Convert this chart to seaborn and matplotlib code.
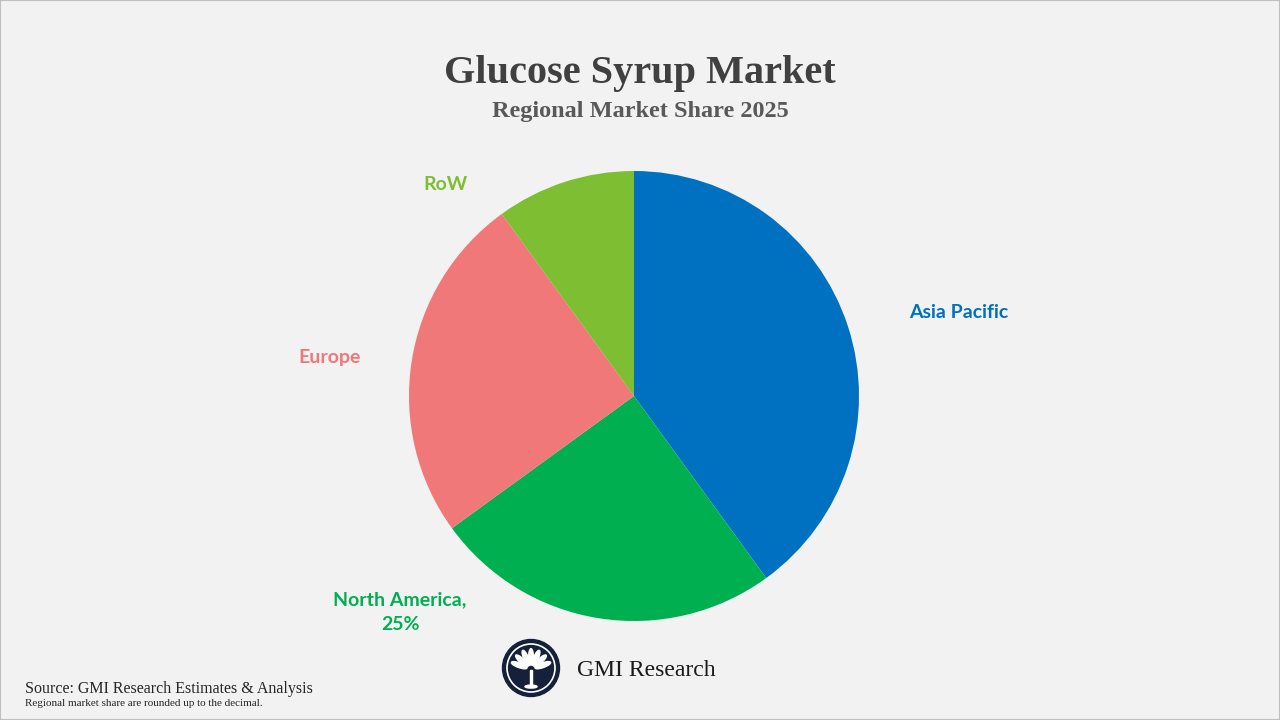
import matplotlib
matplotlib.use("Agg")
import matplotlib.pyplot as plt
import matplotlib.patches as mpatches
import numpy as np
import seaborn as sns

# ---- data ----
regions = ["Asia Pacific", "North America", "Europe", "RoW"]
shares = [40, 25, 25, 10]
label_texts = ["Asia Pacific", "North America,\n25%", "Europe", "RoW"]
colors = ["#0070C0", "#00B050", "#F07878", "#7DBE32"]
title = "Glucose Syrup Market"
subtitle = "Regional Market Share 2025"
source_line = "Source: GMI Research Estimates & Analysis"
note_line = "Regional market share are rounded up to the decimal."

sns.set_theme(style="white")
plt.rcParams["font.family"] = ["Lato", "DejaVu Sans"]

W, H = 1280, 720
fig = plt.figure(figsize=(12.8, 7.2), dpi=100)
fig.patch.set_facecolor("#F2F2F2")

# pie axes: centre (634,396), radius 225 px
cx, cy, r = 634, 396, 225
ax = fig.add_axes([(cx - r) / W, (H - cy - r) / H, 2 * r / W, 2 * r / H])
ax.set_facecolor("none")
ax.pie(shares, colors=colors, startangle=90, counterclock=False, radius=1.0,
       wedgeprops=dict(linewidth=0))
ax.set_xlim(-1, 1)
ax.set_ylim(-1, 1)
ax.set_aspect("equal")
ax.axis("off")

# label positions (relative to pie centre, in radius units)
label_pos = [(1.444, 0.373), (-1.04, -0.96), (-1.351, 0.17), (-0.836, 0.938)]
for txt, (lx, ly), c in zip(label_texts, label_pos, colors):
    ax.text(lx, ly, txt, color=c, fontsize=14, fontweight="bold",
            ha="center", va="center", linespacing=1.55, clip_on=False)

# titles
fig.text(0.5, 1 - 73 / H, title, ha="center", va="center",
         fontsize=29, fontweight="bold", color="#404040", family="Liberation Serif")
fig.text(0.5, 1 - 111 / H, subtitle, ha="center", va="center",
         fontsize=17.5, fontweight="bold", color="#595959", family="Liberation Serif")

# source
fig.text(25 / W, 1 - 689 / H, source_line, ha="left", va="center",
         fontsize=11.5, color="#262626", family="Liberation Serif")
fig.text(25 / W, 1 - 704 / H, note_line, ha="left", va="center",
         fontsize=8, color="#262626", family="Liberation Serif")

# logo
lax = fig.add_axes([(531 - 30) / W, (H - 668 - 30) / H, 60 / W, 60 / H])
lax.set_xlim(-1, 1)
lax.set_ylim(-1, 1)
lax.set_aspect("equal")
lax.axis("off")
lax.add_patch(mpatches.Circle((0, 0), 0.95, color="#17203A"))
lax.add_patch(mpatches.Circle((0, 0), 0.80, fill=False, ec="white", lw=1.2))
for ang in np.linspace(20, 160, 7):
    a = np.deg2rad(ang)
    lax.add_patch(mpatches.Ellipse((0.42 * np.cos(a), -0.05 + 0.42 * np.sin(a)),
                                   0.55, 0.16, angle=ang, color="white"))
lax.add_patch(mpatches.Rectangle((-0.04, -0.6), 0.08, 0.55, color="white"))
lax.add_patch(mpatches.Ellipse((0, -0.62), 0.4, 0.1, color="white"))
fig.text(577 / W, 1 - 670 / H, "GMI Research", ha="left", va="center",
         fontsize=17, color="#1A1A1A", family="Liberation Serif")

# border
fig.add_artist(mpatches.Rectangle((0, 0), 1, 1, transform=fig.transFigure,
                                  fill=False, ec="#BFBFBF", lw=1.5))

fig.savefig("out.png", dpi=100, facecolor=fig.get_facecolor())
